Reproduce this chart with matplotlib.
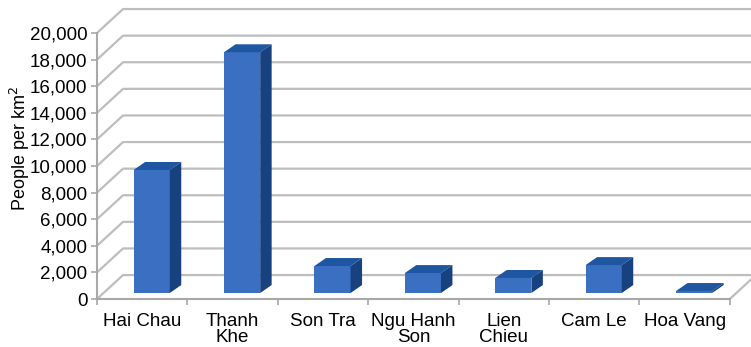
import numpy as np
import matplotlib
matplotlib.use('Agg')
import matplotlib.pyplot as plt
from matplotlib.patches import Polygon

districts = ['Hai Chau', 'Thanh\nKhe', 'Son Tra', 'Ngu Hanh\nSon', 'Lien\nChieu', 'Cam Le', 'Hoa Vang']
density = [9250, 18100, 2030, 1500, 1130, 2100, 150]
yticks = np.arange(0, 20001, 2000)

# fake 3d: depth offsets in data units (category units, value units)
WALL_DX, WALL_DY = 0.288, 1800
BAR_DX, BAR_DY = 0.127, 600
FACE_SHIFT, FACE_BOTTOM, FACE_W = 0.105, 450, 0.40

FRONT = '#3a6fc2'
TOP = '#1f56a2'
SIDE = '#18427f'
GRID = '#bdbdbd'

plt.rcParams['font.family'] = ['Liberation Sans', 'DejaVu Sans']

fig = plt.figure(figsize=(7.51, 3.47), dpi=100)
ax = fig.add_axes([97 / 751, 48 / 347, 654 / 751, 299 / 347])
n = len(districts)
ax.set_xlim(-0.5, -0.5 + 654 / 90.4)
ax.set_ylim(0, 22480)

# side wall diagonals + back wall gridlines
x0 = -0.5
x1 = n - 0.5
for g in yticks:
    ax.plot([x0, x0 + WALL_DX, x1 + WALL_DX], [g, g + WALL_DY, g + WALL_DY],
            color=GRID, lw=1.6, zorder=1, solid_capstyle='butt')
# floor right edge
ax.plot([x1, x1 + WALL_DX], [0, WALL_DY], color=GRID, lw=1.6, zorder=1)

xs = np.arange(n)
ax.bar(xs + FACE_SHIFT, density, width=FACE_W, bottom=FACE_BOTTOM,
       color=FRONT, zorder=3, linewidth=0)
for x, v in zip(xs, density):
    l = x + FACE_SHIFT - FACE_W / 2
    r = x + FACE_SHIFT + FACE_W / 2
    t = FACE_BOTTOM + v
    top = Polygon([(l, t), (r, t), (r + BAR_DX, t + BAR_DY), (l + BAR_DX, t + BAR_DY)],
                  closed=True, facecolor=TOP, edgecolor='none', zorder=3)
    side = Polygon([(r, FACE_BOTTOM), (r + BAR_DX, FACE_BOTTOM + BAR_DY),
                    (r + BAR_DX, t + BAR_DY), (r, t)],
                   closed=True, facecolor=SIDE, edgecolor='none', zorder=3)
    ax.add_patch(top)
    ax.add_patch(side)

for s in ['top', 'right']:
    ax.spines[s].set_visible(False)
ax.spines['left'].set_bounds(0, 20000)
ax.spines['bottom'].set_bounds(x0, x1)
for s in ['left', 'bottom']:
    ax.spines[s].set_color('#a8a8a8')
    ax.spines[s].set_linewidth(1.5)

ax.set_yticks(yticks)
ax.set_yticklabels(['{:,}'.format(t) for t in yticks])
ax.set_xticks(np.arange(-0.5, n, 1.0))
ax.set_xticklabels([])
ax.set_xticks(xs, minor=True)
ax.set_xticklabels(districts, minor=True, linespacing=0.9)
ax.tick_params(axis='x', which='minor', length=0, pad=10, labelsize=13.5)
ax.tick_params(axis='x', which='major', length=4, color='#a8a8a8', width=1.2)
ax.tick_params(axis='y', length=4, color='#a8a8a8', width=1.2, pad=3, labelsize=13.5)

fig.text(20 / 751, 1 - 149 / 347, 'People per km$^2$', rotation=90,
         ha='center', va='center', fontsize=13)

fig.savefig('out.png', dpi=100)
